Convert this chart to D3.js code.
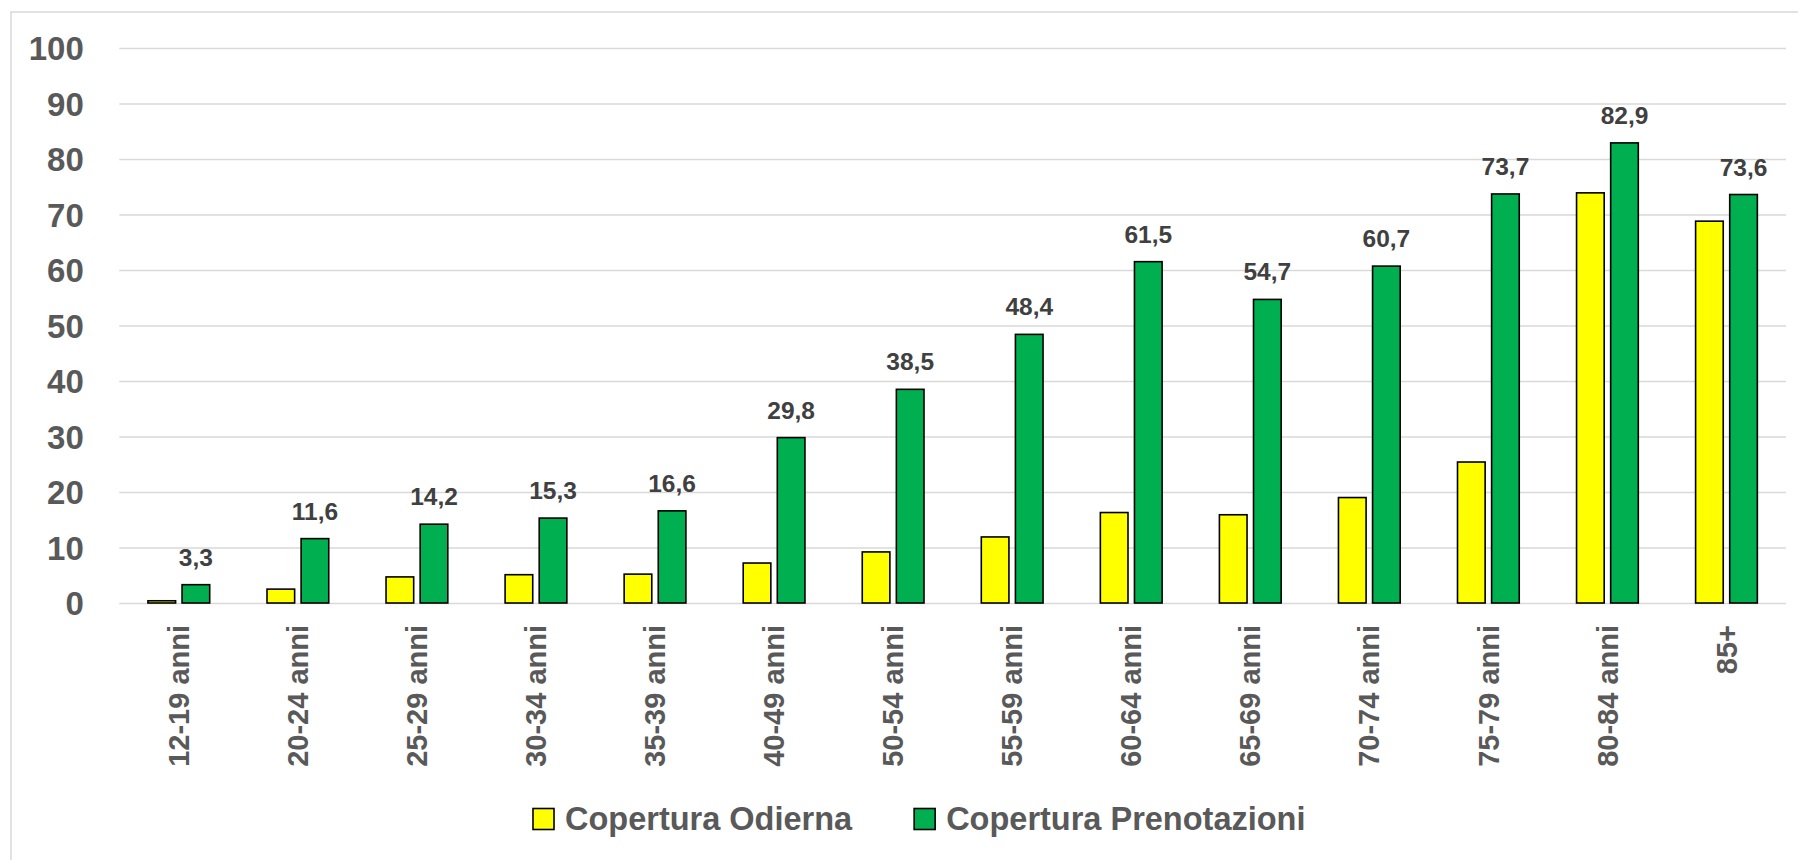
<!DOCTYPE html>
<html>
<head>
<meta charset="utf-8">
<script src="https://cdn.jsdelivr.net/npm/d3@7"></script>
<style>
  html, body { margin: 0; padding: 0; background: #ffffff; }
  svg { display: block; font-family: "Liberation Sans", Arial, sans-serif; font-weight: bold; }
</style>
</head>
<body>
<svg id="chart" width="1798" height="860"></svg>
<script>
// Age groups and vaccination coverage (%)
const categories = ["12-19 anni", "20-24 anni", "25-29 anni", "30-34 anni", "35-39 anni",
  "40-49 anni", "50-54 anni", "55-59 anni", "60-64 anni", "65-69 anni", "70-74 anni",
  "75-79 anni", "80-84 anni", "85+"];
const coperturaOdierna = [0.4, 2.5, 4.7, 5.1, 5.2, 7.2, 9.2, 11.9, 16.3, 15.9, 19.0, 25.4, 73.9, 68.8];
const coperturaPrenotazioni = [3.3, 11.6, 14.2, 15.3, 16.6, 29.8, 38.5, 48.4, 61.5, 54.7, 60.7, 73.7, 82.9, 73.6];
const seriesNames = ["Copertura Odierna", "Copertura Prenotazioni"];
const seriesColors = ["#FFFF00", "#00B050"];
const yTicks = [0, 10, 20, 30, 40, 50, 60, 70, 80, 90, 100];

const svg = d3.select("#chart");
const plotLeft = 119.3, plotRight = 1786, plotTop = 48, plotBottom = 603;

// outer frame
svg.append("rect")
  .attr("x", 11).attr("y", 12)
  .attr("width", 1820).attr("height", 900)
  .attr("fill", "none").attr("stroke", "#d9d9d9").attr("stroke-width", 1.5);

const y = d3.scaleLinear().domain([0, 100]).range([plotBottom, plotTop]);
const x0 = d3.scaleBand().domain(categories).range([plotLeft, plotRight]);
const x1 = d3.scaleBand().domain(seriesNames).range([0, x0.bandwidth()])
  .paddingInner(0.19).paddingOuter(0.84);

// y axis with gridlines
const yAxis = svg.append("g")
  .attr("transform", `translate(${plotLeft},0)`)
  .call(d3.axisLeft(y).tickValues(yTicks).tickSize(-(plotRight - plotLeft)).tickPadding(35.5));
yAxis.select(".domain").remove();
yAxis.selectAll(".tick line").attr("stroke", "#d9d9d9").attr("stroke-width", 1.5);
yAxis.selectAll(".tick text")
  .attr("fill", "#595959")
  .style("font-size", "33px")
  .style("font-family", "\"Liberation Sans\", Arial, sans-serif")
  .style("font-weight", "bold")
  .attr("dy", "0.35em");

// x axis labels, rotated
const xAxis = svg.append("g")
  .attr("transform", `translate(0,${plotBottom})`)
  .call(d3.axisBottom(x0).tickSize(0));
xAxis.select(".domain").remove();
xAxis.selectAll(".tick text")
  .attr("transform", "rotate(-90)")
  .attr("text-anchor", "end")
  .attr("x", -22)
  .attr("y", 0)
  .attr("dy", "0.35em")
  .attr("fill", "#595959")
  .style("font-size", "29px")
  .style("font-family", "\"Liberation Sans\", Arial, sans-serif")
  .style("font-weight", "bold");

// bars
const rows = categories.map((c, i) => ({
  cat: c,
  values: [
    { series: seriesNames[0], value: coperturaOdierna[i], color: seriesColors[0] },
    { series: seriesNames[1], value: coperturaPrenotazioni[i], color: seriesColors[1] }
  ]
}));

const groups = svg.append("g").selectAll("g")
  .data(rows).join("g")
  .attr("transform", d => `translate(${x0(d.cat)},0)`);

groups.selectAll("rect")
  .data(d => d.values).join("rect")
  .attr("x", d => x1(d.series))
  .attr("width", x1.bandwidth())
  .attr("y", d => y(d.value))
  .attr("height", d => y(0) - y(d.value))
  .attr("fill", d => d.color)
  .attr("stroke", "#000000")
  .attr("stroke-width", 1.6);

// value labels for bookings coverage
const fmt = d3.formatLocale({ decimal: ",", thousands: ".", grouping: [3], currency: ["", "€"] }).format(".1f");
groups.append("text")
  .attr("x", x1(seriesNames[1]) + x1.bandwidth() / 2)
  .attr("y", (d, i) => y(coperturaPrenotazioni[i]) - 19)
  .attr("text-anchor", "middle")
  .attr("fill", "#404040")
  .style("font-size", "24.5px")
  .text((d, i) => fmt(coperturaPrenotazioni[i]));

// legend
const legend = svg.append("g");
let lx = 533;
seriesNames.forEach((name, i) => {
  legend.append("rect")
    .attr("x", lx).attr("y", 808.5)
    .attr("width", 21).attr("height", 21)
    .attr("fill", seriesColors[i])
    .attr("stroke", "#000000").attr("stroke-width", 1.6);
  const t = legend.append("text")
    .attr("x", lx + 32).attr("y", 830)
    .attr("fill", "#595959")
    .style("font-size", "32.5px")
    .text(name);
  lx = lx + 32 + t.node().getComputedTextLength() + 62;
});
</script>
</body>
</html>
